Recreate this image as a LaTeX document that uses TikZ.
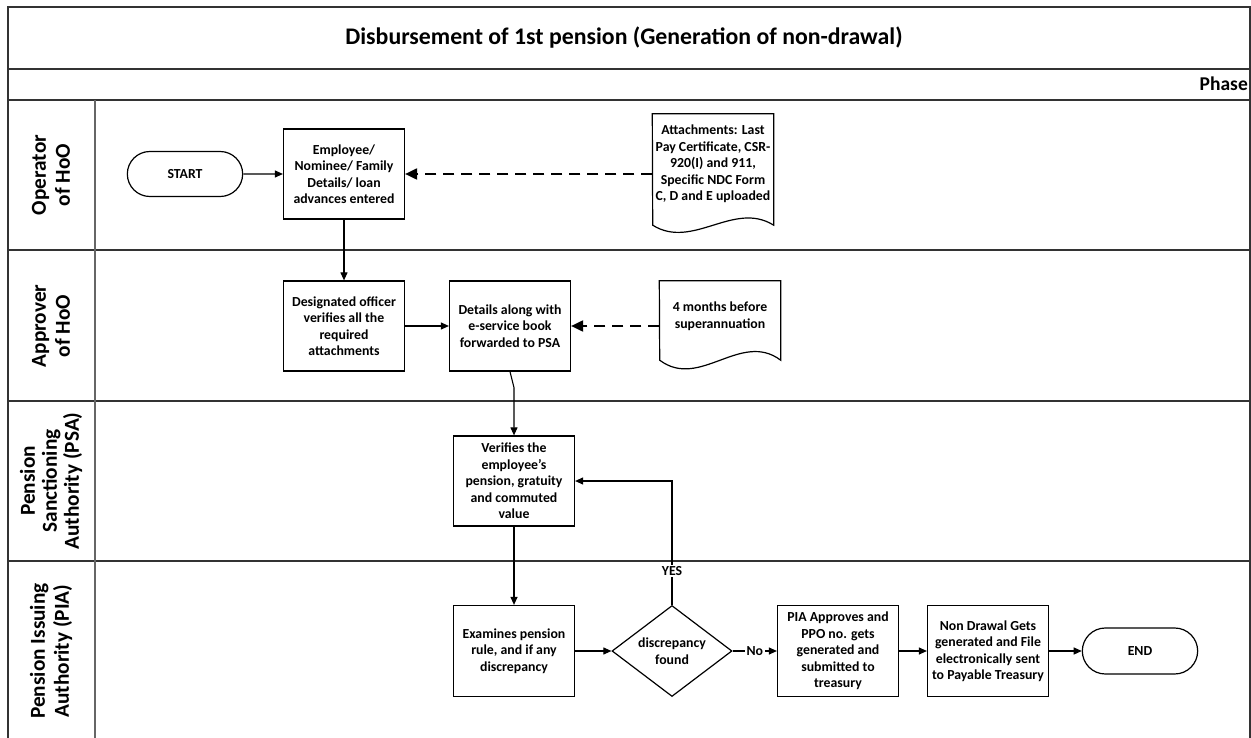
\documentclass[tikz,border=0pt]{standalone}
\usepackage{fontspec}
\setmainfont{Carlito}
\usetikzlibrary{shapes.geometric,shapes.misc,arrows.meta}
\begin{document}
\begin{tikzpicture}[x=1pt,y=-1pt,
  txt/.style={font=\fontsize{13.8}{16.5}\selectfont\bfseries},
  frameline/.style={line width=1.8pt, draw=black!80},
  sepline/.style={line width=1.2pt, draw=black!60},
  box/.style={txt, draw, line width=1.2pt, minimum width=121pt, minimum height=90pt,
    align=center, inner sep=0pt},
  term/.style={txt, draw, rounded rectangle, line width=1.2pt, minimum width=122pt,
    minimum height=45pt},
  doctext/.style={txt, minimum width=121pt, align=center, inner sep=0pt},
  docline/.style={line width=1.2pt},
  dec/.style={txt, draw, diamond, aspect=1.32, line width=1.2pt, minimum width=120pt,
    minimum height=91pt, inner sep=0pt, align=center},
  arr/.style={-{Triangle[length=8pt,width=7pt]}, line width=1.1pt},
  dasharr/.style={-{Triangle[length=12pt,width=11pt]}, line width=2pt, dash pattern=on 11pt off 7pt},
  lane/.style={rotate=90, align=center, font=\fontsize{21.3}{24}\selectfont\bfseries},
  lbl/.style={txt, fill=white, inner sep=1.5pt}
]
\useasboundingbox (0,0) rectangle (1251,738);

% pool frame, title row, phase row and lanes
\draw[frameline] (8,738) -- (8,7) -- (1250,7) -- (1250,738);
\foreach \yy in {69,100,250,401,561}
  \draw[frameline] (8,\yy) -- (1250,\yy);
\draw[sepline] (95,100) -- (95,738);

\node[font=\fontsize{23.8}{27}\selectfont\bfseries] (title) at (624,38)
  {Disbursement of 1st pension (Generation of non-drawal)};
\node[font=\fontsize{19.5}{22}\selectfont\bfseries, anchor=east, inner sep=0pt] (phase) at (1248,84) {Phase};

% lane labels
\node[lane] (l1) at (51,175) {Operator\\of HoO};
\node[lane] (l2) at (51,326) {Approver\\of HoO};
\node[lane, font=\fontsize{21.3}{22}\selectfont\bfseries] (l3) at (51,481) {Pension\\Sanctioning\\Authority (PSA)};
\node[lane] (l4) at (51,651) {Pension Issuing\\Authority (PIA)};

% lane 1
\node[term] (start) at (185,174) {START};
\node[box] (b1) at (344,174) {Employee/\\Nominee/ Family\\Details/ loan\\advances entered};
\node[doctext, minimum height=100pt] (doc1) at (713,164)
  {Attachments: Last\\Pay Certificate, CSR-\\920(I) and 911,\\Specific NDC Form\\C, D and E uploaded};
\draw[docline] (doc1.north west) -- (doc1.north east) -- (doc1.south east) -- ++(0,11)
  .. controls +(-40,-25) and +(40,25) .. ++(-121,0) -- cycle;

% lane 2
\node[box] (b2) at (344,326) {Designated officer\\verifies all the\\required\\attachments};
\node[box] (b3) at (510,326) {Details along with\\e-service book\\forwarded to PSA};
\node[doctext, minimum height=70pt] (doc2) at (720,316) {4 months before\\superannuation};
\draw[docline] (doc2.north west) -- (doc2.north east) -- (doc2.south east) -- ++(0,9)
  .. controls +(-40,-30) and +(40,30) .. ++(-121,0) -- cycle;

% lane 3
\node[box] (b4) at (514,481) {Verifies the\\employee’s\\pension, gratuity\\and commuted\\value};

% lane 4
\node[box, minimum height=91pt] (b5) at (514,651) {Examines pension\\rule, and if any\\discrepancy};
\node[dec] (dia) at (672,651) {discrepancy\\found};
\node[box, minimum height=91pt] (b6) at (838,651) {PIA Approves and\\PPO no. gets\\generated and\\submitted to\\treasury};
\node[box, minimum height=91pt] (b7) at (988,651) {Non Drawal Gets\\generated and File\\electronically sent\\to Payable Treasury};
\node[term, minimum height=46pt] (end) at (1140,651) {END};

% connectors
\draw[arr] (start) -- (b1);
\draw[dasharr] (doc1.west |- b1) -- (b1);
\draw[arr] (b1) -- (b2);
\draw[arr] (b2) -- (b3);
\draw[dasharr] (doc2.west |- b3) -- (b3);
\draw[arr] (b3.south) -- ++(4,16) -- (b4.north);
\draw[arr] (b4) -- (b5);
\draw[arr] (b5) -- (dia);
\draw[arr] (dia.north) |- (b4.east);
\node[lbl] (yes) at (672,571) {YES};
\draw[arr] (dia) -- node[lbl] (no) {No} (b6);
\draw[arr] (b6) -- (b7);
\draw[arr] (b7) -- (end);
\end{tikzpicture}
\end{document}
